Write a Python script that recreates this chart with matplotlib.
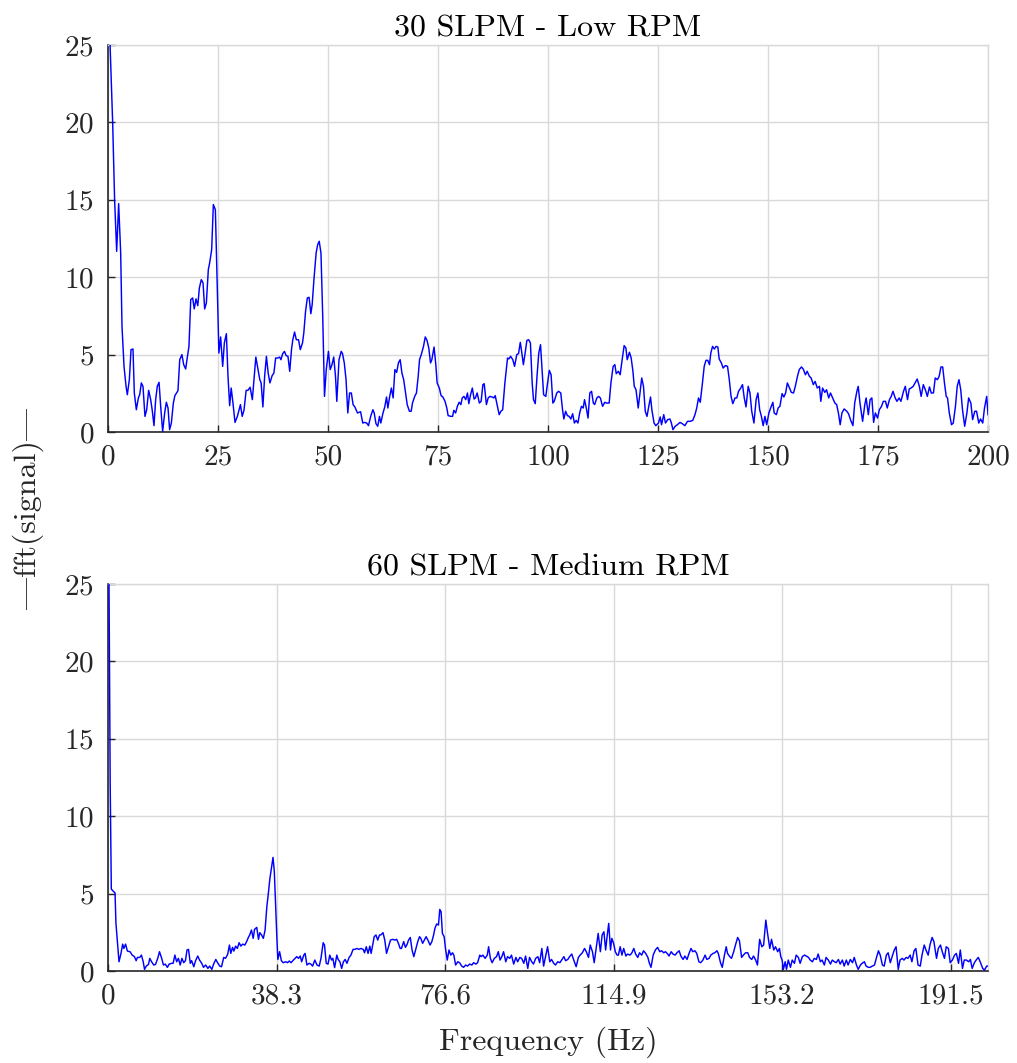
import numpy as np
import matplotlib.pyplot as plt

plt.rcParams['font.family'] = ['cmr10', 'DejaVu Serif']
plt.rcParams['mathtext.fontset'] = 'cm'
plt.rcParams['axes.formatter.use_mathtext'] = True
plt.rcParams['axes.unicode_minus'] = False

# --- spectrum, 30 SLPM / low RPM ---
low_hz = [
    0.0, 1.06, 1.5, 1.97, 2.42, 2.88, 3.18, 3.64, 4.1, 4.39, 4.85, 5.23, 5.68, 5.98, 6.44, 6.9,
    7.2, 7.58, 7.95, 8.4, 8.79, 9.24, 9.7, 10.08, 10.45, 10.83, 11.2, 11.6, 11.97, 12.42, 12.88,
    13.26, 13.64, 14.0, 14.4, 14.85, 15.2, 15.9, 16.3, 16.8, 17.2, 17.65, 18.0, 18.4, 18.8, 19.24,
    19.6, 20.0, 20.4, 20.76, 21.2, 21.6, 21.97, 22.35, 22.8, 23.1, 23.56, 23.94, 24.4, 24.85, 25.2,
    25.6, 26.06, 26.44, 26.9, 27.27, 27.65, 28.0, 28.4, 28.86, 29.4, 30.1, 30.5, 30.9, 31.4, 31.8,
    32.3, 32.8, 33.6, 34.1, 34.5, 34.8, 35.2, 35.6, 36.0, 36.4, 36.8, 37.3, 37.7, 38.1, 38.6, 39.0,
    39.3, 39.7, 40.1, 40.5, 40.9, 41.3, 41.7, 42.0, 42.4, 42.8, 43.3, 43.7, 44.2, 44.5, 44.9, 45.3,
    45.7, 46.1, 46.4, 46.8, 47.3, 47.65, 48.0, 48.4, 48.8, 49.2, 49.6, 50.1, 50.5, 50.9, 51.3, 51.7,
    52.0, 52.5, 53.0, 53.3, 53.7, 54.1, 54.5, 54.9, 55.3, 55.7, 56.1, 56.7, 57.4, 57.9, 58.3, 58.8,
    59.2, 59.7, 60.2, 60.5, 60.9, 61.3, 61.7, 62.0, 62.5, 62.9, 63.3, 63.6, 64.0, 64.4, 64.8, 65.2,
    65.6, 66.0, 66.4, 66.8, 67.2, 67.6, 68.0, 68.5, 68.9, 69.2, 69.7, 70.1, 70.5, 70.8, 71.2, 71.7,
    72.1, 72.5, 72.9, 73.3, 73.6, 74.1, 74.5, 74.8, 75.3, 75.7, 76.1, 76.6, 77.0, 77.3, 77.9, 78.3,
    78.6, 79.0, 79.4, 79.8, 80.2, 80.5, 80.9, 81.3, 81.7, 82.0, 82.4, 82.8, 83.2, 83.5, 83.9, 84.4,
    84.8, 85.2, 85.5, 86.0, 86.4, 86.8, 87.3, 87.7, 88.0, 88.5, 88.9, 89.3, 89.7, 90.2, 90.8, 91.1,
    91.5, 92.0, 92.4, 92.9, 93.3, 93.7, 94.0, 94.4, 94.8, 95.2, 95.6, 96.0, 96.4, 96.7, 97.1, 97.5,
    97.9, 98.3, 98.6, 99.0, 99.5, 99.9, 100.3, 100.7, 101.1, 101.4, 102.0, 102.4, 102.9, 103.3,
    103.6, 104.0, 104.4, 104.8, 105.2, 105.6, 106.0, 106.4, 106.8, 107.2, 107.6, 108.0, 108.3,
    108.7, 109.1, 109.5, 109.9, 110.3, 110.6, 111.1, 111.5, 111.9, 112.4, 112.9, 113.3, 113.9,
    114.3, 114.8, 115.2, 115.5, 116.0, 116.4, 116.8, 117.3, 117.7, 118.0, 118.5, 118.9, 119.3,
    119.6, 120.0, 120.5, 120.8, 121.3, 121.7, 122.1, 122.5, 122.9, 123.3, 123.6, 124.1, 124.5,
    125.1, 125.5, 125.8, 126.3, 126.7, 127.2, 127.7, 128.0, 128.4, 128.9, 129.4, 130.0, 130.5,
    131.1, 131.7, 132.3, 132.9, 133.4, 133.8, 134.2, 134.6, 135.1, 135.5, 135.9, 136.3, 136.7,
    137.0, 137.4, 137.8, 138.2, 138.6, 138.9, 139.4, 139.8, 140.3, 140.8, 141.2, 141.6, 142.0,
    142.5, 142.9, 143.3, 143.8, 144.2, 144.6, 145.0, 145.5, 145.9, 146.3, 146.8, 147.3, 147.7,
    148.1, 148.5, 148.9, 149.3, 149.7, 150.2, 150.6, 151.1, 151.4, 151.9, 152.3, 152.7, 153.2,
    153.6, 154.0, 154.4, 154.9, 155.3, 155.8, 156.2, 156.7, 157.1, 157.6, 158.0, 158.5, 158.9,
    159.4, 159.8, 160.3, 160.7, 161.2, 161.7, 162.0, 162.4, 162.9, 163.3, 163.8, 164.2, 164.7,
    165.2, 165.6, 166.0, 166.4, 166.8, 167.3, 167.9, 168.3, 168.8, 169.3, 169.7, 170.2, 170.5,
    170.9, 171.5, 172.0, 172.3, 172.8, 173.2, 173.6, 174.0, 174.4, 174.9, 175.3, 175.8, 176.2,
    176.7, 177.1, 177.6, 178.0, 178.4, 178.9, 179.3, 179.8, 180.2, 180.8, 181.2, 181.7, 182.1,
    182.5, 183.0, 183.5, 183.9, 184.4, 184.8, 185.3, 185.8, 186.2, 186.7, 187.1, 187.6, 188.0,
    188.5, 188.9, 189.3, 189.7, 190.1, 190.5, 190.8, 191.2, 191.7, 192.1, 192.6, 193.0, 193.4,
    193.8, 194.2, 194.7, 195.2, 195.6, 196.1, 196.5, 197.0, 197.4, 197.9, 198.3, 198.8, 199.2,
    199.7, 200.0,
]
low_amp = [
    29.0, 19.96, 15.0, 11.67, 14.75, 11.56, 6.83, 4.24, 2.95, 2.41, 3.38, 5.32, 5.36, 2.52, 1.44, 2.2,
    2.41, 3.17, 2.95, 1.01, 1.44, 2.69, 2.09, 1.34, 0.41, 2.09, 2.95, 3.21, 1.66, 0.04, 1.23,
    1.92, 1.55, 0.15, 0.58, 1.87, 2.35, 2.67, 4.67, 5.0, 4.35, 4.07, 4.78, 5.53, 8.55, 8.66,
    7.95, 8.6, 8.16, 9.3, 9.84, 9.63, 7.95, 8.33, 10.49, 10.92, 11.78, 14.69, 14.36, 9.19, 5.1,
    6.14, 4.24, 5.75, 6.35, 3.6, 1.7, 2.84, 1.87, 0.62, 1.01, 1.77, 1.01, 1.4, 2.69, 2.69,
    2.89, 2.09, 4.84, 4.03, 3.38, 3.17, 1.62, 3.6, 4.89, 3.81, 3.17, 3.64, 3.81, 4.78, 4.78, 4.84,
    4.67, 5.06, 5.21, 4.93, 4.89, 3.92, 5.32, 5.96, 6.46, 5.96, 5.96, 5.32, 5.75, 6.4, 7.8, 8.66,
    8.7, 7.64, 8.23, 9.84, 11.56, 12.1, 12.32, 11.56, 7.47, 2.3, 4.03, 5.21, 4.03, 4.35, 4.84, 3.6,
    1.98, 4.67, 5.21, 5.06, 4.46, 3.38, 1.23, 2.52, 2.52, 1.77, 1.62, 1.23, 1.31, 0.58, 0.62, 0.58,
    0.41, 1.01, 1.44, 1.23, 0.54, 0.37, 1.01, 0.58, 1.23, 1.62, 2.26, 1.55, 2.26, 2.84, 2.2, 4.03,
    3.85, 4.46, 4.67, 3.81, 3.38, 2.56, 1.77, 1.34, 1.34, 1.87, 2.3, 2.52, 3.6, 4.67, 5.0, 5.53,
    6.14, 5.92, 5.43, 4.46, 4.67, 5.49, 4.35, 3.17, 2.84, 2.35, 2.26, 1.98, 1.55, 1.06, 1.01, 1.01,
    1.4, 1.23, 1.66, 1.92, 1.77, 2.2, 2.3, 2.09, 2.52, 1.83, 2.41, 2.84, 2.13, 2.2, 2.52, 1.87,
    1.98, 3.06, 3.12, 1.77, 2.2, 2.3, 2.26, 2.2, 2.35, 1.66, 1.12, 1.34, 1.44, 3.17, 4.78, 4.72,
    4.89, 4.67, 4.24, 5.0, 5.06, 5.79, 5.21, 4.35, 5.1, 5.92, 5.96, 5.75, 3.17, 2.09, 1.83, 3.6,
    5.1, 5.64, 4.24, 2.41, 2.3, 3.17, 3.98, 3.7, 1.87, 1.98, 2.52, 2.63, 2.52, 1.44,
    0.84, 1.34, 1.06, 1.01, 0.84, 1.18, 0.58, 0.75, 0.58, 1.23, 1.66, 1.55, 2.09,
    1.55, 0.9, 2.52, 2.63, 1.87, 1.77, 2.2, 2.3, 2.2, 1.66, 1.92, 1.87, 1.87,
    3.17, 4.24, 4.35, 3.77, 3.92, 3.7, 4.57, 5.58, 5.43, 4.67, 5.15, 4.78, 3.92,
    2.95, 2.73, 1.55, 2.3, 3.49, 2.95, 1.34, 1.01, 1.66, 2.26, 1.44, 0.58, 0.41,
    0.58, 0.97, 0.47, 1.12, 0.58, 0.8, 0.84, 0.62, 0.15, 0.37, 0.47, 0.62, 0.54,
    0.41, 0.69, 0.69, 0.75, 1.12, 1.55, 2.2, 1.92, 3.17, 4.24, 4.63, 4.63, 4.35,
    5.1, 5.53, 5.36, 5.53, 5.49, 4.72, 4.46, 4.13, 4.29, 4.24, 3.38, 2.3, 1.83,
    2.2, 2.2, 2.63, 2.84, 3.06, 2.2, 1.62, 2.95, 2.52, 1.34, 0.58, 2.09, 2.52,
    1.44, 1.01, 0.41, 1.01, 0.47, 1.23, 1.55, 1.92, 1.23, 1.12, 1.55, 1.66, 2.48,
    2.26, 2.52, 3.17, 2.84, 2.56, 2.52, 2.95, 3.6, 4.03, 4.2, 4.07, 3.7, 3.92,
    3.6, 3.49, 3.06, 3.27, 2.84, 2.95, 1.98, 2.84, 2.56, 2.73, 2.2, 2.52, 2.2,
    1.87, 1.77, 1.23, 0.47, 1.23, 1.49, 1.34, 1.18, 0.75, 0.41, 1.87, 2.63, 2.95,
    1.87, 0.69, 1.77, 2.2, 1.12, 2.09, 2.2, 0.62, 1.23, 0.9, 1.44, 1.66, 1.98,
    1.98, 1.55, 2.09, 2.3, 2.63, 2.2, 1.98, 2.2, 1.98, 2.63, 2.95, 2.09, 2.78,
    2.84, 2.95, 3.21, 3.42, 2.95, 2.3, 3.06, 2.69, 2.3, 2.91, 2.52, 2.52, 3.49,
    3.38, 3.6, 4.2, 4.2, 3.17, 2.3, 2.2, 1.23, 0.47, 0.58, 1.66, 2.95, 3.38,
    2.73, 1.44, 0.37, 1.23, 2.2, 1.87, 0.8, 1.34, 1.34, 0.58, 0.84, 0.58, 1.55,
    2.3, 1.12,
]

# --- spectrum, 60 SLPM / medium RPM ---
med_hz = [
    0.0, 0.25, 0.5, 0.75, 1.2, 1.6, 1.8, 2.5, 2.95, 3.33, 3.6, 4.0, 4.4, 5.0, 5.5, 6.0, 6.4, 6.7,
    7.2, 7.6, 8.0, 8.3, 8.7, 9.2, 9.5, 9.9, 10.4, 10.8, 11.3, 11.7, 12.2, 12.6, 13.0, 13.5, 13.9,
    14.5, 14.8, 15.2, 15.6, 16.0, 16.4, 16.8, 17.2, 17.6, 17.95, 18.3, 18.7, 19.0, 19.5, 19.9,
    20.4, 20.8, 21.3, 21.7, 22.2, 22.7, 23.1, 23.6, 24.0, 24.5, 24.9, 25.4, 25.8, 26.3, 26.7,
    27.2, 27.6, 27.9, 28.3, 28.6, 29.0, 29.4, 29.8, 30.2, 30.6, 31.1, 31.5, 31.9, 32.2, 32.6,
    33.0, 33.3, 33.8, 34.2, 34.5, 34.9, 35.3, 35.7, 36.1, 36.4, 36.8, 37.2, 37.5, 37.8, 38.1,
    38.4, 38.6, 39.0, 39.4, 39.8, 40.4, 40.8, 41.2, 41.6, 42.0, 42.5, 42.9, 43.3, 43.7, 44.0,
    44.5, 44.8, 45.2, 45.7, 46.1, 46.5, 47.0, 47.5, 48.0, 48.4, 48.9, 49.2, 49.6, 50.0, 50.4,
    50.8, 51.1, 51.5, 52.0, 52.3, 52.7, 53.1, 53.5, 53.9, 54.3, 54.8, 55.2, 55.7, 56.1, 56.6,
    57.0, 57.5, 58.0, 58.3, 58.7, 59.1, 59.5, 59.8, 60.2, 60.5, 60.9, 61.3, 61.7, 62.0, 62.5,
    62.9, 63.3, 63.8, 64.2, 64.7, 65.2, 65.6, 66.0, 66.4, 66.7, 67.2, 67.6, 68.0, 68.3, 68.7,
    69.1, 69.5, 69.9, 70.4, 70.8, 71.1, 71.5, 71.9, 72.3, 72.7, 73.2, 73.6, 74.0, 74.3, 74.7,
    75.1, 75.4, 75.7, 76.0, 76.4, 76.7, 77.1, 77.5, 77.9, 78.3, 78.6, 79.0, 79.5, 79.9, 80.4,
    80.8, 81.3, 81.7, 82.2, 82.7, 83.1, 83.6, 84.0, 84.5, 84.8, 85.2, 85.7, 86.2, 86.5, 86.9,
    87.3, 87.8, 88.3, 88.7, 89.1, 89.5, 89.9, 90.4, 90.8, 91.3, 91.7, 92.2, 92.7, 93.1, 93.6,
    94.0, 94.5, 94.9, 95.4, 95.8, 96.3, 96.7, 97.2, 97.7, 98.1, 98.6, 99.0, 99.5, 99.9, 100.4,
    100.8, 101.3, 101.7, 102.2, 102.7, 103.1, 103.6, 104.0, 104.5, 104.9, 105.4, 105.8, 106.4,
    106.9, 107.3, 107.8, 108.3, 108.7, 109.2, 109.6, 110.1, 110.5, 111.0, 111.4, 111.9, 112.3,
    112.7, 113.1, 113.4, 113.8, 114.2, 114.5, 114.9, 115.3, 115.7, 116.0, 116.4, 116.8, 117.2,
    117.7, 118.1, 118.6, 119.0, 119.5, 119.9, 120.4, 120.8, 121.3, 121.7, 122.2, 122.7, 123.0,
    123.4, 123.9, 124.4, 124.9, 125.4, 125.8, 126.3, 126.7, 127.2, 127.5, 128.0, 128.4, 128.9,
    129.3, 129.8, 130.2, 130.7, 131.1, 131.6, 132.0, 132.5, 132.9, 133.4, 133.8, 134.3, 134.7,
    135.2, 135.7, 136.1, 136.6, 137.0, 137.5, 137.9, 138.4, 138.7, 139.2, 139.6, 140.1, 140.5,
    140.8, 141.3, 141.7, 142.2, 142.6, 143.1, 143.5, 144.0, 144.4, 144.9, 145.4, 145.8, 146.3,
    146.7, 147.2, 147.6, 148.1, 148.6, 149.0, 149.5, 149.9, 150.4, 150.8, 151.3, 151.7, 152.2,
    152.6, 152.9, 153.2, 153.5, 153.9, 154.2, 154.6, 155.1, 155.5, 156.0, 156.4, 156.9, 157.3,
    157.8, 158.3, 158.7, 159.2, 159.6, 160.1, 160.5, 161.0, 161.4, 161.9, 162.3, 162.8, 163.2,
    163.7, 164.2, 164.6, 165.1, 165.5, 166.0, 166.4, 166.9, 167.3, 167.8, 168.2, 168.7, 169.2,
    169.6, 170.1, 170.5, 171.0, 171.4, 171.9, 172.3, 172.8, 173.2, 173.7, 174.2, 174.6, 175.1,
    175.5, 176.0, 176.4, 176.9, 177.3, 177.8, 178.2, 178.7, 179.1, 179.6, 180.0, 180.5, 180.9,
    181.4, 181.8, 182.3, 182.7, 183.2, 183.6, 184.1, 184.6, 185.0, 185.5, 185.9, 186.4, 186.8,
    187.3, 187.7, 188.3, 188.7, 189.2, 189.6, 190.1, 190.5, 191.0, 191.4, 191.9, 192.4, 192.8,
    193.3, 193.7, 194.2, 194.6, 195.1, 195.6, 196.0, 196.4, 196.9, 197.4, 197.8, 198.3, 198.8,
    199.2, 199.7, 200.0,
]
med_amp = [
    34.0, 24.0, 12.0, 5.3, 5.15, 5.05, 3.1, 0.6, 1.14, 1.74, 1.46, 1.74, 1.29, 1.25, 1.03, 0.93,
    0.67, 0.88, 0.88, 1.03, 0.6, 0.11, 0.32, 0.43, 0.82, 0.6, 0.39, 0.43, 0.82, 1.25, 0.82, 0.39,
    0.45, 0.24, 0.45, 0.5, 0.5, 1.03, 0.6, 0.82, 0.39, 0.82, 0.54, 0.67, 1.36, 1.4, 0.5, 0.67,
    0.28, 0.67, 0.97, 0.71, 0.5, 0.24, 0.39, 0.17, 0.32, 0.11, 0.45, 0.75, 0.54, 0.32, 0.28,
    0.88, 0.82, 1.08, 1.68, 1.14, 1.53, 1.29, 1.61, 1.46, 1.83, 1.61, 1.74, 1.68, 1.9, 2.17,
    2.33, 2.65, 2.11, 2.69, 2.82, 2.05, 2.48, 2.33, 2.11, 2.65, 4.16, 4.91, 5.99, 6.74, 7.34,
    6.42, 4.16, 2.0, 0.75, 1.25, 0.67, 0.54, 0.6, 0.54, 0.65, 0.54, 0.67, 0.82, 0.93, 0.82,
    0.97, 0.6, 1.03, 1.14, 0.39, 0.5, 0.45, 0.32, 0.71, 0.39, 0.32, 0.82, 1.83, 1.68, 0.5,
    0.45, 1.03, 0.71, 0.82, 0.22, 1.03, 0.75, 0.6, 0.17, 0.6, 0.75, 0.5, 0.88, 1.03, 1.4,
    1.4, 1.46, 1.4, 1.46, 1.4, 1.18, 1.57, 1.14, 1.61, 1.14, 1.74, 2.22, 2.33, 2.0, 2.33,
    2.33, 2.48, 2.0, 1.14, 1.61, 2.0, 2.05, 2.0, 2.05, 1.79, 1.46, 1.46, 1.9, 1.53, 1.74,
    2.0, 2.17, 1.36, 0.93, 1.36, 1.9, 2.22, 2.11, 1.79, 2.0, 2.22, 2.0, 1.68, 1.9, 2.33,
    2.76, 3.04, 2.97, 3.98, 3.83, 2.43, 2.22, 1.46, 0.71, 1.36, 1.03, 1.18, 1.03, 0.39, 0.6,
    0.54, 0.32, 0.24, 0.39, 0.32, 0.45, 0.39, 0.54, 0.45, 0.54, 1.03, 0.93, 1.03, 0.82, 1.03,
    1.57, 0.82, 0.54, 0.82, 0.93, 1.25, 0.71, 0.93, 1.25, 0.6, 0.93, 0.82, 1.03, 0.45, 0.88,
    0.6, 0.88, 0.82, 0.5, 0.97, 0.17, 0.88, 0.6, 0.45, 0.82, 0.93, 0.54, 1.46, 0.32, 1.03,
    1.57, 0.6, 0.75, 0.5, 0.39, 0.6, 0.54, 0.71, 0.93, 0.67, 0.75, 0.93, 1.1, 0.75, 0.28,
    0.88, 1.03, 1.18, 1.46, 1.25, 0.88, 1.68, 1.25, 0.54, 1.57, 2.43, 1.25, 2.33,
    2.54, 1.36, 2.17, 3.08, 1.36, 2.11, 1.79, 1.25, 1.03, 1.03, 1.57, 1.03, 1.46,
    0.97, 1.1, 1.03, 1.14, 1.46, 1.1, 0.88, 1.18, 1.03, 1.31, 1.14, 0.88, 0.54,
    0.24, 1.03, 1.36, 1.53, 1.25, 1.31, 1.18, 1.25, 1.1, 0.97, 1.25, 1.1, 1.03,
    1.18, 1.31, 0.97, 0.75, 0.97, 0.75, 1.1, 1.46, 1.25, 1.31, 1.14, 0.6, 0.54,
    0.71, 1.03, 0.75, 0.82, 1.03, 1.14, 1.18, 1.31, 1.14, 0.54, 0.24, 1.03, 1.57,
    1.14, 0.93, 0.82, 1.25, 1.68, 2.17, 1.96, 0.88, 1.03, 1.18, 1.18, 0.88, 0.75,
    0.97, 0.71, 0.39, 2.05, 1.57, 1.68, 3.29, 2.43, 1.46, 2.05, 1.36, 1.57, 1.25,
    1.46, 0.93, 0.71, 0.11, 0.6, 0.11, 0.71, 0.24, 0.71, 0.5, 1.03, 0.88, 0.5,
    0.93, 1.03, 0.97, 0.88, 0.71, 0.6, 0.82, 0.75, 1.1, 0.6, 0.71, 0.39, 0.88,
    0.71, 0.45, 0.71, 0.6, 0.54, 0.75, 0.45, 0.71, 0.32, 0.71, 0.39, 0.75, 0.54,
    0.88, 0.39, 0.11, 0.39, 0.5, 0.6, 0.32, 0.24, 0.24, 0.32, 0.39, 0.82, 1.31,
    1.03, 0.39, 0.32, 1.03, 1.18, 0.54, 0.93, 1.36, 1.57, 0.11, 0.71, 0.82, 0.71,
    0.88, 0.82, 1.03, 0.6, 1.31, 1.46, 0.39, 0.32, 1.03, 1.68, 1.36, 1.03, 1.68,
    2.17, 1.9, 0.82, 1.46, 1.68, 1.25, 0.82, 1.57, 1.46, 0.54, 0.71, 1.03, 1.14,
    0.5, 1.36, 0.17, 0.71, 0.71, 0.6, 0.75, 0.17, 0.54, 0.75, 0.88, 0.54, 0.17,
    0.06, 0.32, 0.32,
]

panels = [
    ("30 SLPM - Low RPM", low_hz, low_amp, [0, 25, 50, 75, 100, 125, 150, 175, 200],
     ["0", "25", "50", "75", "100", "125", "150", "175", "200"]),
    ("60 SLPM - Medium RPM", med_hz, med_amp, [0, 38.3, 76.6, 114.9, 153.2, 191.5],
     ["0", "38.3", "76.6", "114.9", "153.2", "191.5"]),
]

axis_col = '#262626'
grid_col = '#d9d9d9'
fs = 21        # tick labels
fs_lab = 23    # titles and axis labels

fig = plt.figure(figsize=(10.17, 10.63), dpi=100)
boxes = [[0.1062, 0.5936, 0.8653, 0.3641], [0.1062, 0.0865, 0.8653, 0.3641]]

for box, (title, hz, amp, ticks, ticklabels) in zip(boxes, panels):
    ax = fig.add_axes(box)
    ax.plot(hz, amp, color=(0, 0, 1), lw=1.05, zorder=3)
    ax.set_xlim(0, 200)
    ax.set_ylim(0, 25)
    ax.set_xticks(ticks)
    ax.set_xticklabels(ticklabels)
    ax.set_yticks([0, 5, 10, 15, 20, 25])
    ax.grid(True, color=grid_col, lw=1.0)
    ax.set_axisbelow(True)
    for side in ['top', 'right']:
        ax.spines[side].set_color(grid_col)
        ax.spines[side].set_linewidth(1.0)
    for side in ['left', 'bottom']:
        ax.spines[side].set_color(axis_col)
        ax.spines[side].set_linewidth(1.2)
    ax.tick_params(direction='in', length=5, width=1.0, color=axis_col,
                   labelcolor=axis_col, labelsize=fs, top=False, right=False)
    ax.tick_params(axis='y', pad=10)
    ax.tick_params(axis='x', pad=9)
    ax.set_title(title, fontsize=fs_lab, color='black', pad=6)

ax.set_xlabel("Frequency (Hz)", fontsize=fs_lab, color=axis_col, labelpad=12)
fig.text(0.028, 0.522, "|fft(signal)|", rotation=90, fontsize=fs_lab, color=axis_col,
         ha='center', va='center')

fig.savefig("out.png", dpi=100)
